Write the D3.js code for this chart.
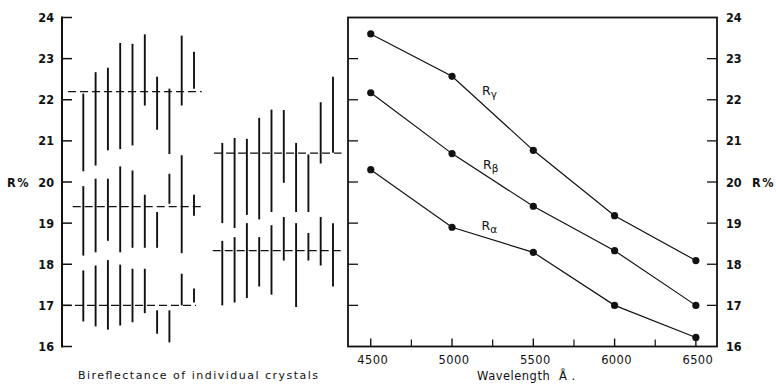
<!DOCTYPE html>
<html>
<head>
<meta charset="utf-8">
<script src="https://cdn.jsdelivr.net/npm/d3@7"></script>
<style>
  html, body { margin: 0; padding: 0; background: #fff; }
  svg { display: block; }
  text { fill: #111; }
</style>
</head>
<body>
<svg id="chart" width="776" height="386"></svg>
<script>
// ---------------- DATA ----------------
const yTickValues = [16, 17, 18, 19, 20, 21, 22, 23, 24];
const xTickValues = [4500, 5000, 5500, 6000, 6500];
const xMinorTicks = [4750, 5250, 5750, 6250];
const wavelengths = [4500, 5000, 5500, 6000, 6500];
const rGamma = [23.6, 22.57, 20.77, 19.18, 18.09];
const rBeta  = [22.17, 20.69, 19.41, 18.33, 17.0];
const rAlpha = [20.3, 18.9, 18.29, 17.0, 16.22];
const seriesNames = ["γ", "β", "α"];

// Bireflectance ranges of individual crystals: [low, high]
// Group A (10 crystals, three levels)
const groupAHigh = [[20.26,22.15],[20.4,22.67],[20.77,22.78],[20.8,23.38],[20.89,23.36],[21.86,23.59],[21.27,22.56],[20.68,22.27],[21.86,23.56],[22.27,23.17]];
const groupAMid  = [[18.21,19.9],[18.29,20.08],[18.57,20.08],[18.29,20.38],[18.4,20.28],[18.4,19.69],[18.4,19.27],[19.47,20.2],[18.27,20.65],[19.18,19.69]];
const groupALow  = [[16.61,17.85],[16.49,17.97],[16.41,18.1],[16.51,17.99],[16.59,17.89],[16.81,17.89],[16.31,16.88],[16.1,16.88],[17.0,17.77],[17.07,17.41]];
const groupAMeans = [22.2, 19.4, 17.0];
// Group B (10 crystals, two levels)
const groupBHigh = [[19.0,20.95],[18.88,21.07],[19.2,21.05],[19.09,21.56],[19.27,21.76],[19.98,21.75],[19.27,20.95],[19.27,20.67],[20.45,21.94],[20.71,22.56]];
const groupBLow  = [[17.0,18.57],[17.07,18.66],[17.18,19.0],[17.46,18.66],[17.26,18.95],[18.09,19.15],[16.96,19.0],[18.09,18.76],[17.97,19.15],[17.46,19.0]];
const groupBMeans = [20.7, 18.33];

// ---------------- LAYOUT ----------------
const svg = d3.select("#chart");
const yTop = 17.5, yBot = 346.5;
const y = d3.scaleLinear().domain([16, 24]).range([yBot, yTop]);
const numFont = "'DejaVu Sans Condensed', 'DejaVu Sans', sans-serif";

// ---------- Left panel ----------
const leftAxisX = 62;
const gL = svg.append("g");
gL.append("line").attr("x1", leftAxisX).attr("x2", leftAxisX)
  .attr("y1", y(24) - 1).attr("y2", y(16) + 1)
  .attr("stroke", "#111").attr("stroke-width", 2);
gL.selectAll("line.tk").data(yTickValues).join("line")
  .attr("class", "tk")
  .attr("x1", leftAxisX).attr("x2", leftAxisX + 10)
  .attr("y1", d => y(d)).attr("y2", d => y(d))
  .attr("stroke", "#111").attr("stroke-width", 1.5);
gL.selectAll("text.tl").data(yTickValues).join("text")
  .attr("class", "tl")
  .attr("x", 54).attr("y", d => y(d) + 4.5)
  .attr("text-anchor", "end")
  .attr("font-family", numFont).attr("font-weight", "bold").attr("font-size", 12.5)
  .text(d => d);
gL.append("text").attr("x", 7).attr("y", y(20) + 4.5)
  .attr("font-family", numFont).attr("font-weight", "bold").attr("font-size", 12.5)
  .attr("letter-spacing", 1.5)
  .text("R%");

// crystal slot scale
const slot = d3.scaleLinear().domain([0, 9]).range([83.3, 194]);
const groupBOffset = 11.3;

function drawBars(data, offset) {
  gL.append("g").selectAll("line").data(data).join("line")
    .attr("x1", (d, i) => slot(i + offset)).attr("x2", (d, i) => slot(i + offset))
    .attr("y1", d => y(d[0])).attr("y2", d => y(d[1]))
    .attr("stroke", "#111").attr("stroke-width", 1.9);
}
drawBars(groupAHigh, 0);
drawBars(groupAMid, 0);
drawBars(groupALow, 0);
drawBars(groupBHigh, groupBOffset);
drawBars(groupBLow, groupBOffset);

function dashed(v, s0, s1) {
  gL.append("line")
    .attr("x1", slot(s0)).attr("x2", slot(s1))
    .attr("y1", y(v)).attr("y2", y(v))
    .attr("stroke", "#111").attr("stroke-width", 1.3)
    .attr("stroke-dasharray", "8,4");
}
dashed(groupAMeans[0], -1.24, 9.63);
dashed(groupAMeans[1], -0.86, 9.7);
dashed(groupAMeans[2], -1.65, 9.16);
dashed(groupBMeans[0], 10.63, 21.0);
dashed(groupBMeans[1], 10.52, 21.0);

gL.append("text").attr("x", 78).attr("y", 379)
  .attr("font-family", "'DejaVu Sans', sans-serif").attr("font-size", 11)
  .attr("textLength", 240).attr("lengthAdjust", "spacing")
  .text("Bireflectance of individual crystals");

// ---------- Right panel ----------
const x = d3.scaleLinear().domain([4360, 6630]).range([348, 717]);
const gR = svg.append("g");
// frame
gR.append("rect").attr("x", x(4360)).attr("y", yTop)
  .attr("width", x(6630) - x(4360)).attr("height", yBot - yTop)
  .attr("fill", "none").attr("stroke", "#111").attr("stroke-width", 1.8);
// y ticks inside, both sides
const innerY = yTickValues.filter(v => v > 16 && v < 24);
gR.selectAll("line.ltk").data(innerY).join("line")
  .attr("x1", x(4360)).attr("x2", x(4360) + 10)
  .attr("y1", d => y(d)).attr("y2", d => y(d))
  .attr("stroke", "#111").attr("stroke-width", 1.3);
gR.selectAll("line.rtk").data(innerY).join("line")
  .attr("x1", x(6630)).attr("x2", x(6630) - 10)
  .attr("y1", d => y(d)).attr("y2", d => y(d))
  .attr("stroke", "#111").attr("stroke-width", 1.3);
gR.selectAll("text.rl").data(yTickValues).join("text")
  .attr("x", 726).attr("y", d => y(d) + 4.5)
  .attr("font-family", numFont).attr("font-weight", "bold").attr("font-size", 12.5)
  .text(d => d);
gR.append("text").attr("x", 752).attr("y", y(20) + 4.5)
  .attr("font-family", numFont).attr("font-weight", "bold").attr("font-size", 12.5)
  .attr("letter-spacing", 1.5)
  .text("R%");
// x ticks
gR.selectAll("line.xt").data(xTickValues).join("line")
  .attr("x1", d => x(d)).attr("x2", d => x(d))
  .attr("y1", yBot).attr("y2", yBot - 8)
  .attr("stroke", "#111").attr("stroke-width", 1.4);
gR.selectAll("line.xm").data(xMinorTicks).join("line")
  .attr("x1", d => x(d)).attr("x2", d => x(d))
  .attr("y1", yBot).attr("y2", yBot - 7)
  .attr("stroke", "#111").attr("stroke-width", 1.2);
gR.selectAll("text.xl").data(xTickValues).join("text")
  .attr("x", d => x(d) + 2).attr("y", 364)
  .attr("text-anchor", "middle")
  .attr("font-family", "'DejaVu Sans', sans-serif").attr("font-size", 11.5)
  .attr("letter-spacing", 0.4)
  .text(d => d);
const wl = gR.append("text").attr("y", 380)
  .attr("font-family", "'DejaVu Sans', sans-serif").attr("font-size", 11.5)
  .attr("letter-spacing", 0.5);
wl.append("tspan").attr("x", 477).text("Wavelength");
wl.append("tspan").attr("x", 559).text("Å .");

// series
const line = d3.line().x((d, i) => x(wavelengths[i])).y(d => y(d));
const allSeries = [rGamma, rBeta, rAlpha];
allSeries.forEach(s => {
  gR.append("path").attr("d", line(s))
    .attr("fill", "none").attr("stroke", "#111").attr("stroke-width", 1.2);
  gR.append("g").selectAll("circle").data(s).join("circle")
    .attr("cx", (d, i) => x(wavelengths[i])).attr("cy", d => y(d))
    .attr("r", 3.6).attr("fill", "#111");
});
// series labels
const labelPos = [[482, 95], [483, 168.5], [481.5, 230]];
seriesNames.forEach((n, i) => {
  const t = gR.append("text").attr("x", labelPos[i][0]).attr("y", labelPos[i][1])
    .attr("font-family", "'DejaVu Sans', sans-serif").attr("font-size", 12.5);
  t.append("tspan").text("R");
  t.append("tspan").attr("dy", 3).attr("font-size", 10.5).text(n);
});
</script>
</body>
</html>
